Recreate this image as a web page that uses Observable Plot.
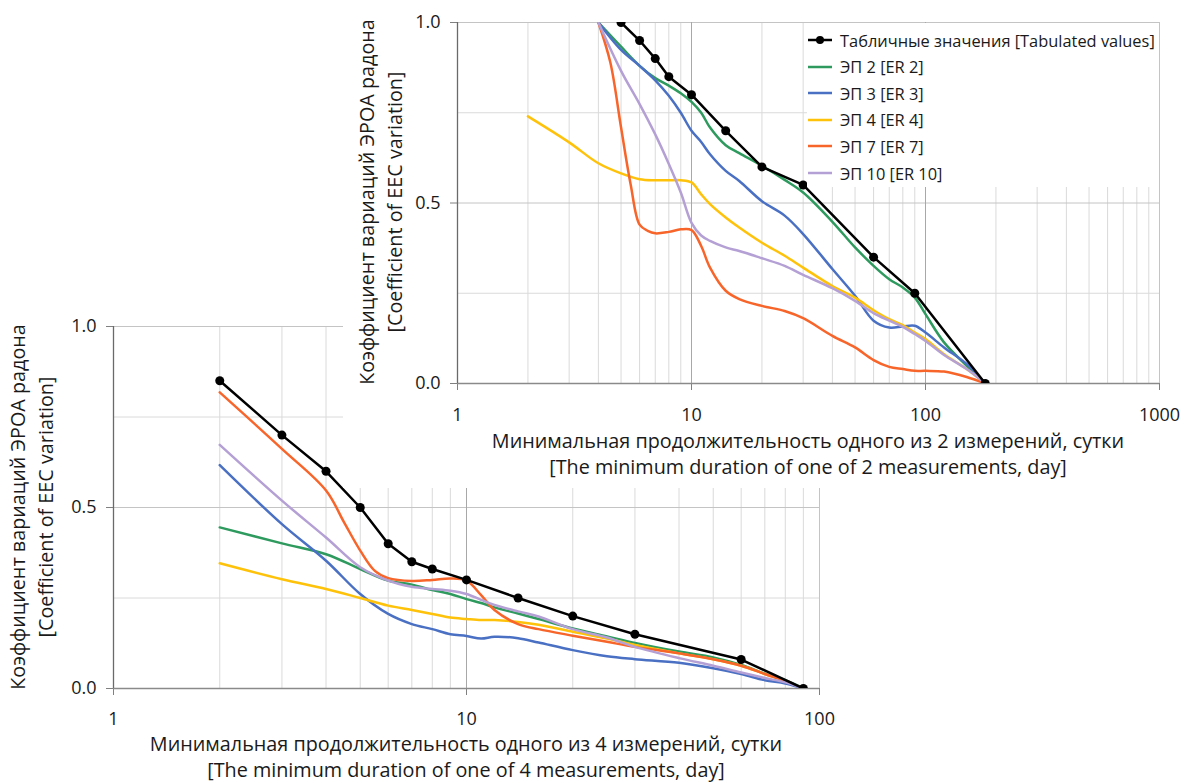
<!DOCTYPE html>
<html><head><meta charset="utf-8">
<script src="https://cdn.jsdelivr.net/npm/d3@7"></script>
<script src="https://cdn.jsdelivr.net/npm/@observablehq/plot@0.6"></script>
<style>
html,body{margin:0;padding:0;background:#fff;}
#wrap{position:relative;width:1184px;height:783px;overflow:hidden;font-family:"Open Sans",sans-serif;color:#1a1a1a;}
#wrap > svg{position:absolute;}
g[aria-label$="-axis tick"]{stroke:#808080;}
.ttl{position:absolute;white-space:nowrap;font-size:19.8px;line-height:26px;text-align:center;transform:translate(-50%,-50%);}
.rot{line-height:28px;transform:translate(-50%,-50%) rotate(-90deg);}
#legend{position:absolute;left:807px;top:23px;width:352px;height:164px;background:#fff;font-size:16.4px;}
#legend .row{position:absolute;left:0;height:26px;display:flex;align-items:center;white-space:nowrap;}
#legend svg{position:static;margin-left:1px;margin-right:8px;}
</style></head>
<body><div id="wrap"></div>
<script>
// ---------- Data: chart with 4 measurements (bottom) ----------
const botTabX = [2, 3, 4, 5, 6, 7, 8, 10, 14, 20, 30, 60, 90];
const botTabY = [0.85, 0.70, 0.60, 0.50, 0.40, 0.35, 0.33, 0.30, 0.25, 0.20, 0.15, 0.08, 0.0];
const botX = [2, 3, 4, 5, 6, 7, 8, 9, 10, 11, 12, 14, 16, 20, 25, 30, 40, 50, 60, 70, 80, 90];
const botER2 = [0.445, 0.401, 0.371, 0.33, 0.298, 0.287, 0.272, 0.261, 0.247, 0.236, 0.224, 0.207, 0.192, 0.166, 0.144, 0.126, 0.102, 0.086, 0.065, 0.041, 0.023, 0.0];
const botER3 = [0.617, 0.454, 0.353, 0.261, 0.206, 0.178, 0.164, 0.15, 0.145, 0.138, 0.143, 0.139, 0.127, 0.106, 0.089, 0.081, 0.071, 0.056, 0.04, 0.023, 0.014, 0.0];
const botER4 = [0.346, 0.302, 0.275, 0.25, 0.229, 0.217, 0.206, 0.196, 0.192, 0.189, 0.189, 0.184, 0.176, 0.157, 0.138, 0.12, 0.097, 0.081, 0.063, 0.04, 0.021, 0.0];
const botER7X = [2, 3, 4, 4.5, 5, 5.5, 6, 7, 8, 9, 10, 11, 12, 14, 16, 20, 25, 30, 40, 50, 60, 70, 80, 90];
const botER7 = [0.818, 0.662, 0.547, 0.459, 0.381, 0.325, 0.305, 0.297, 0.30, 0.304, 0.298, 0.258, 0.217, 0.178, 0.164, 0.146, 0.129, 0.115, 0.097, 0.081, 0.063, 0.04, 0.021, 0.0];
const botER10 = [0.673, 0.519, 0.417, 0.335, 0.298, 0.281, 0.275, 0.27, 0.261, 0.245, 0.231, 0.213, 0.199, 0.164, 0.141, 0.115, 0.084, 0.063, 0.044, 0.029, 0.017, 0.0];

// ---------- Data: chart with 2 measurements (top) ----------
const topTabX = [4, 5, 6, 7, 8, 10, 14, 20, 30, 60, 90, 180];
const topTabY = [1.05, 1.0, 0.95, 0.90, 0.85, 0.80, 0.70, 0.60, 0.55, 0.35, 0.25, 0.0];
const topX = [4, 5, 6, 7, 8, 9, 10, 11, 12, 14, 16, 20, 25, 30, 40, 50, 60, 70, 80, 90, 100, 120, 150, 180];
const topER2 = [1.0, 0.933, 0.88, 0.846, 0.825, 0.804, 0.78, 0.75, 0.709, 0.66, 0.638, 0.603, 0.564, 0.529, 0.448, 0.377, 0.326, 0.289, 0.266, 0.238, 0.192, 0.114, 0.049, 0.0];
const topER3 = [1.0, 0.924, 0.88, 0.84, 0.797, 0.75, 0.70, 0.669, 0.635, 0.589, 0.561, 0.505, 0.465, 0.414, 0.317, 0.243, 0.174, 0.155, 0.158, 0.16, 0.141, 0.10, 0.054, 0.0];
const topER4X = [2, 3, 4, 5, 6, 7, 8, 9, 10, 11, 12, 14, 16, 20, 25, 30, 40, 50, 60, 70, 80, 90, 100, 120, 150, 180];
const topER4 = [0.74, 0.668, 0.61, 0.582, 0.566, 0.563, 0.563, 0.563, 0.557, 0.524, 0.497, 0.46, 0.432, 0.39, 0.354, 0.321, 0.27, 0.238, 0.203, 0.178, 0.162, 0.141, 0.123, 0.081, 0.04, 0.0];
const topER7X = [4, 4.5, 5, 5.5, 6, 6.5, 7, 8, 9, 10, 11, 12, 14, 16, 20, 25, 30, 40, 50, 60, 70, 80, 90, 100, 120, 150, 180];
const topER7 = [1.0, 0.889, 0.709, 0.55, 0.44, 0.423, 0.416, 0.42, 0.427, 0.425, 0.381, 0.321, 0.257, 0.234, 0.215, 0.201, 0.181, 0.132, 0.10, 0.065, 0.046, 0.04, 0.035, 0.035, 0.033, 0.018, 0.0];
const topER10 = [1.0, 0.866, 0.774, 0.69, 0.608, 0.529, 0.445, 0.41, 0.395, 0.377, 0.367, 0.347, 0.326, 0.301, 0.264, 0.229, 0.195, 0.174, 0.157, 0.137, 0.118, 0.079, 0.04, 0.0];

// ---------- Labels, ticks ----------
const seriesNames = ["Табличные значения [Tabulated values]", "ЭП 2 [ER 2]", "ЭП 3 [ER 3]", "ЭП 4 [ER 4]", "ЭП 7 [ER 7]", "ЭП 10 [ER 10]"];
const seriesColors = ["#000000", "#2e9a5e", "#4a70c4", "#ffc20a", "#f8652a", "#b4a0d4"];
const yTitle = ["Коэффициент вариаций ЭРОА радона", "[Coefficient of EEC variation]"];
const xTitleTop = ["Минимальная продолжительность одного из 2 измерений, сутки", "[The minimum duration of one of 2 measurements, day]"];
const xTitleBot = ["Минимальная продолжительность одного из 4 измерений, сутки", "[The minimum duration of one of 4 measurements, day]"];
const topXTicks = [1, 10, 100, 1000];
const botXTicks = [1, 10, 100];
const yTicks = [0, 0.5, 1.0];
const yMinorGrid = [0.25, 0.75];
const yMajorGrid = [0.5, 1.0];
const topMinorGrid = [2,3,4,5,6,7,8,9,20,30,40,50,60,70,80,90,200,300,400,500,600,700,800,900];
const topMajorGrid = [10, 100];
const botMinorGrid = [2,3,4,5,6,7,8,9,20,30,40,50,60,70,80,90];
const botMajorGrid = [10];

const rows = (xs, ys) => xs.map((x, i) => ({x, y: ys[i]}));

function chartMarks(tabX, tabY, lines, minorGrid, majorGrid, edgeX) {
  const m = [
    Plot.ruleX(minorGrid, {stroke: "#dadada", strokeWidth: 1}),
    Plot.ruleY(yMinorGrid, {stroke: "#dadada", strokeWidth: 1}),
    Plot.ruleY(yMajorGrid, {stroke: "#c4c4c4", strokeWidth: 1}),
    Plot.ruleX(majorGrid, {stroke: "#a8a8a8", strokeWidth: 1}),
    Plot.ruleX([edgeX], {stroke: "#c4c4c4", strokeWidth: 1}),
    Plot.ruleY([0], {stroke: "#8a8a8a", strokeWidth: 1.3}),
    Plot.ruleX([1], {stroke: "#6a6a6a", strokeWidth: 1.3})
  ];
  lines.forEach(([xs, ys], i) => {
    m.push(Plot.line(rows(xs, ys), {x: "x", y: "y", stroke: seriesColors[i + 1], strokeWidth: 2.5, curve: "catmull-rom", clip: true}));
  });
  m.push(Plot.line(rows(tabX, tabY), {x: "x", y: "y", stroke: "#000", strokeWidth: 2.5, clip: true}));
  m.push(Plot.dot(rows(tabX, tabY), {x: "x", y: "y", r: 4.5, fill: "#000", clip: true}));
  return m;
}

const commonStyle = {fontFamily: "'Open Sans', sans-serif", fontSize: "18px", color: "#1a1a1a", overflow: "visible"};

const botChart = Plot.plot({
  width: 840, height: 783,
  marginLeft: 113, marginRight: 21, marginTop: 326, marginBottom: 95,
  x: {type: "log", domain: [1, 100], ticks: botXTicks, tickFormat: d => String(d), tickSize: 7, tickPadding: 17, label: null},
  y: {domain: [0, 1], ticks: yTicks, tickFormat: d => d.toFixed(1), tickSize: 7, tickPadding: 10, label: null},
  style: commonStyle,
  marks: chartMarks(botTabX, botTabY,
    [[botX, botER2], [botX, botER3], [botX, botER4], [botER7X, botER7], [botX, botER10]],
    botMinorGrid, botMajorGrid, 100)
});
botChart.style.left = "0px"; botChart.style.top = "0px";

const topChart = Plot.plot({
  width: 841, height: 488,
  marginLeft: 114, marginRight: 25, marginTop: 22, marginBottom: 105,
  x: {type: "log", domain: [1, 1000], ticks: topXTicks, tickFormat: d => String(d), tickSize: 7, tickPadding: 18, label: null},
  y: {domain: [0, 1], ticks: yTicks, tickFormat: d => d.toFixed(1), tickSize: 7, tickPadding: 10, label: null},
  style: {...commonStyle, background: "#fff"},
  marks: chartMarks(topTabX, topTabY,
    [[topX, topER2], [topX, topER3], [topER4X, topER4], [topER7X, topER7], [topX, topER10]],
    topMinorGrid, topMajorGrid, 1000)
});
topChart.style.left = "343px"; topChart.style.top = "0px";

const wrap = document.getElementById("wrap");
wrap.appendChild(botChart);
wrap.appendChild(topChart);

function addTitle(lines, cx, cy, rotate) {
  const d = document.createElement("div");
  d.className = "ttl" + (rotate ? " rot" : "");
  d.style.left = cx + "px"; d.style.top = cy + "px";
  lines.forEach((t, i) => { if (i) d.appendChild(document.createElement("br")); d.appendChild(document.createTextNode(t)); });
  wrap.appendChild(d);
}
addTitle(yTitle, 32, 507, true);
addTitle(xTitleBot, 466, 756.5, false);
addTitle(yTitle, 381, 202, true);
addTitle(xTitleTop, 808, 454, false);

// Legend
const leg = document.createElement("div");
leg.id = "legend";
seriesNames.forEach((name, i) => {
  const r = document.createElement("div");
  r.className = "row";
  r.style.top = (4 + i * 26.6) + "px";
  const ns = "http://www.w3.org/2000/svg";
  const s = document.createElementNS(ns, "svg");
  s.setAttribute("width", 24); s.setAttribute("height", 12);
  const l = document.createElementNS(ns, "line");
  l.setAttribute("x1", 0); l.setAttribute("x2", 24); l.setAttribute("y1", 6); l.setAttribute("y2", 6);
  l.setAttribute("stroke", seriesColors[i]); l.setAttribute("stroke-width", 2.5);
  s.appendChild(l);
  if (i === 0) {
    const c = document.createElementNS(ns, "circle");
    c.setAttribute("cx", 12); c.setAttribute("cy", 6); c.setAttribute("r", 4); c.setAttribute("fill", "#000");
    s.appendChild(c);
  }
  r.appendChild(s);
  r.appendChild(document.createTextNode(name));
  leg.appendChild(r);
});
wrap.appendChild(leg);
</script>
</body></html>
